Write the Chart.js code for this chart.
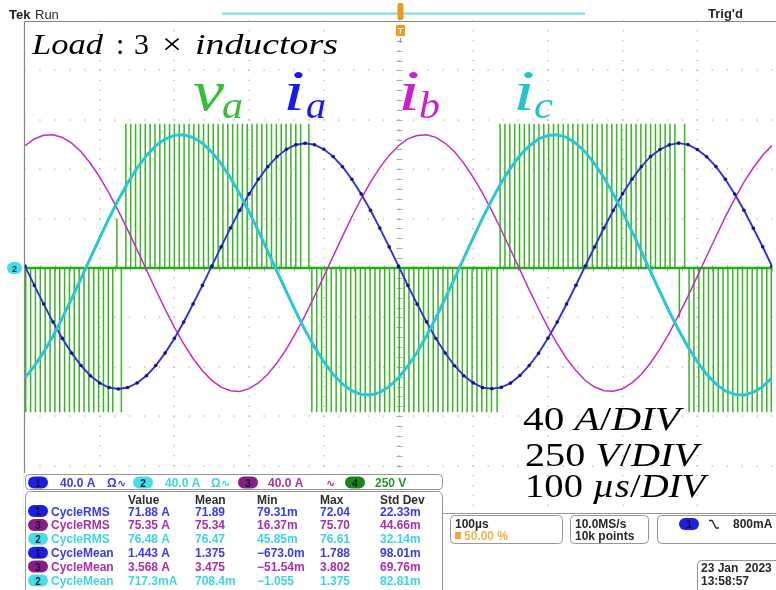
<!DOCTYPE html>
<html>
<head>
<meta charset="utf-8">
<script src="https://cdn.jsdelivr.net/npm/chart.js@4/dist/chart.umd.min.js"></script>
<style>
  html, body { margin: 0; padding: 0; background: #fff; }
  canvas { display: block; }
</style>
</head>
<body>
<canvas id="scope" width="776" height="590"></canvas>
<script>
// Sample instants of the current traces (µs); 100 µs/div over 10 divisions
const sampleTimesUs = [0, 12.5, 25, 37.5, 50, 62.5, 75, 87.5, 100, 112.5, 125, 137.5, 150, 162.5, 175, 187.5,
  200, 212.5, 225, 237.5, 250, 262.5, 275, 287.5, 300, 312.5, 325, 337.5, 350, 362.5, 375, 387.5,
  400, 412.5, 425, 437.5, 450, 462.5, 475, 487.5, 500, 512.5, 525, 537.5, 550, 562.5, 575, 587.5,
  600, 612.5, 625, 637.5, 650, 662.5, 675, 687.5, 700, 712.5, 725, 737.5, 750, 762.5, 775, 787.5,
  800, 812.5, 825, 837.5, 850, 862.5, 875, 887.5, 900, 912.5, 925, 937.5, 950, 962.5, 975, 987.5, 1000];

// Phase currents (A), 40 A/div
const iaA = [1.5, -14.1, -29.2, -43.7, -57.0, -68.9, -79.0, -87.2, -93.1, -96.8, -98.0, -96.8, -93.1, -87.2, -79.0, -68.9,
  -57.0, -43.7, -29.2, -14.1, 1.5, 17.1, 32.3, 46.7, 60.0, 71.9, 82.0, 90.2, 96.1, 99.8, 101.0, 99.8,
  96.1, 90.2, 82.0, 71.9, 60.0, 46.7, 32.3, 17.1, 1.5, -14.2, -29.3, -43.6, -57.1, -68.8, -79.1, -87.2,
  -93.0, -96.9, -97.8, -96.7, -93.2, -87.1, -79.0, -69.0, -56.9, -43.7, -29.1, -14.0, 1.6, 17.0, 32.4, 46.6,
  60.1, 71.8, 82.0, 90.3, 96.0, 99.7, 101.1, 99.9, 96.0, 90.1, 82.1, 71.9, 59.9, 46.8, 32.2, 17.2, 1.4];

const ibA = [99.0, 104.5, 107.4, 107.9, 105.7, 101.1, 94.1, 84.8, 73.6, 60.6, 46.3, 30.9, 14.9, -1.4, -17.6, -33.3,
  -48.0, -61.5, -73.3, -83.2, -91.0, -96.5, -99.4, -99.9, -97.7, -93.1, -86.1, -76.8, -65.6, -52.6, -38.3, -22.9,
  -6.9, 9.4, 25.6, 41.3, 56.0, 69.5, 81.3, 91.2, 99.0, 104.6, 107.3, 107.8, 105.8, 101.0, 94.2, 84.7,
  73.5, 60.7, 46.2, 31.0, 14.8, -1.3, -17.7, -33.2, -48.1, -61.4, -73.3, -83.1, -91.1, -96.4, -99.3, -99.8,
  -97.8, -93.0, -86.2, -76.7, -65.5, -52.7, -38.2, -23.0, -6.8, 9.5, 25.5, 41.4, 55.9, 69.6, 81.2, 91.3, 99.1];

const icA = [-88.9, -79.5, -68.1, -55.0, -40.4, -24.8, -8.5, 8.0, 24.4, 40.3, 55.3, 68.9, 80.9, 91.0, 98.9, 104.4,
  107.4, 107.9, 105.7, 101.0, 93.9, 84.5, 73.1, 60.0, 45.4, 29.8, 13.5, -3.0, -19.4, -35.3, -50.3, -63.9,
  -75.9, -86.0, -93.9, -99.4, -102.4, -102.9, -100.7, -96.0, -88.9, -79.4, -68.2, -54.9, -40.5, -24.7, -8.6, 8.1,
  24.3, 40.4, 55.2, 69.0, 80.8, 91.1, 98.8, 104.5, 107.3, 107.8, 105.8, 100.9, 94.0, 84.4, 73.2, 59.9,
  45.5, 29.7, 13.6, -3.1, -19.3, -35.4, -50.2, -64.0, -75.8, -86.1, -93.8, -99.5, -102.3, -103.0, -100.6, -96.1, -88.8];

// Phase voltage v_a: switching edges (µs) per half cycle, 250 V/div
const vaLinkV = 730;
const vaNeg1Us = [1, 7.5, 14, 20.5, 27, 33.5, 40, 46.5, 53, 59.5, 66, 72.5, 79, 85.5, 92, 98.5, 105, 111.5, 117.5, 129];
const vaPos1Us = [135, 141.5, 148, 154.5, 161, 167.5, 174, 180.5, 187, 193.5, 200, 206.5, 213, 219.5, 226, 232.5, 239,
  245.5, 252, 258.5, 265, 271.5, 278, 284.5, 291, 297.5, 304, 310.5, 317, 323.5, 330, 336.5, 343, 349.5, 356, 362.5, 369, 380];
const vaNeg2Us = [384, 390.5, 397, 403.5, 410, 416.5, 423, 429.5, 436, 442.5, 449, 455.5, 462, 468.5, 475, 481.5, 488,
  494.5, 501, 507.5, 514, 520.5, 527, 533.5, 540, 546.5, 553, 559.5, 566, 572.5, 579, 585.5, 592, 598.5, 605, 611.5, 618, 624.5, 632];
const vaPos2Us = [636, 642.5, 649, 655.5, 662, 668.5, 675, 681.5, 688, 694.5, 701, 707.5, 714, 720.5, 727, 733.5, 740,
  746.5, 753, 759.5, 766, 772.5, 779, 785.5, 792, 798.5, 805, 811.5, 818, 824.5, 831, 837.5, 844, 850.5, 857, 863.5, 870, 883];
const vaNeg3Us = [889, 895.5, 902, 908.5, 915, 921.5, 928, 934.5, 941, 947.5, 954, 960.5, 967, 973.5, 980, 986.5, 993, 999];
const vaEdgeUs = [123, 876];
const vaEdgeV = [250, -250];

// Readout texts
const channelScales = ['40.0 A', '40.0 A', '40.0 A', '250 V'];
const measureHeader = ['Value', 'Mean', 'Min', 'Max', 'Std Dev'];
const measureChannels = [1, 3, 2, 1, 3, 2];
const measureNames = ['CycleRMS', 'CycleRMS', 'CycleRMS', 'CycleMean', 'CycleMean', 'CycleMean'];
const measureValues = [
  ['71.88 A', '71.89', '79.31m', '72.04', '22.33m'],
  ['75.35 A', '75.34', '16.37m', '75.70', '44.66m'],
  ['76.48 A', '76.47', '45.85m', '76.61', '32.14m'],
  ['1.443 A', '1.375', '\u2212673.0m', '1.788', '98.01m'],
  ['3.568 A', '3.475', '\u221251.54m', '3.802', '69.76m'],
  ['717.3mA', '708.4m', '\u22121.055', '1.375', '82.81m']
];

const CH = {
  1: { text: 'rgb(58,58,232)', badge: 'rgb(30,30,225)' },
  2: { text: 'rgb(62,212,224)', badge: 'rgb(70,222,232)' },
  3: { text: 'rgb(168,48,168)', badge: 'rgb(135,30,135)' },
  4: { text: 'rgb(40,150,40)', badge: 'rgb(25,135,25)' }
};

const toXY = (ts, vs) => ts.map((t, i) => ({ x: t, y: vs[i] }));

// Build the switching trace: every edge goes from 0 V to the rail and back
const vaEdges = [];
vaNeg1Us.forEach(t => vaEdges.push({ t, v: -vaLinkV }));
vaPos1Us.forEach(t => vaEdges.push({ t, v: vaLinkV }));
vaNeg2Us.forEach(t => vaEdges.push({ t, v: -vaLinkV }));
vaPos2Us.forEach(t => vaEdges.push({ t, v: vaLinkV }));
vaNeg3Us.forEach(t => vaEdges.push({ t, v: -vaLinkV }));
vaEdgeUs.forEach((t, i) => vaEdges.push({ t, v: vaEdgeV[i] }));
vaEdges.sort((a, b) => a.t - b.t);
const vaTrace = [];
vaEdges.forEach(e => { vaTrace.push({ x: e.t, y: 0 }, { x: e.t, y: e.v }, { x: e.t, y: 0 }); });
const vaLevel = [{ x: 0, y: 0 }, { x: 1000, y: 0 }];

function rr(ctx, x, y, w, h, r) {
  ctx.beginPath();
  if (ctx.roundRect) ctx.roundRect(x, y, w, h, r); else ctx.rect(x, y, w, h);
}
function txt(ctx, s, x, y, font, color, align) {
  ctx.font = font; ctx.fillStyle = color; ctx.textAlign = align || 'left'; ctx.textBaseline = 'alphabetic';
  ctx.fillText(s, x, y);
}
function fitText(ctx, s, x, y, font, color, w) {
  ctx.font = font;
  const m = ctx.measureText(s).width;
  ctx.save(); ctx.translate(x, y); if (w) ctx.scale(w / m, 1);
  ctx.fillStyle = color; ctx.textAlign = 'left'; ctx.textBaseline = 'alphabetic';
  ctx.fillText(s, 0, 0); ctx.restore();
}
function badge(ctx, cx, cy, n) {
  rr(ctx, cx - 10, cy - 6, 20, 12, 6);
  ctx.fillStyle = CH[n].badge; ctx.fill();
  txt(ctx, String(n), cx, cy + 4, 'bold 10px "Liberation Sans"', 'rgb(20,20,40)', 'center');
}
function mathLine(ctx, runs, x, y, size, color, targetW) {
  const fonts = { r: size + 'px "Liberation Serif"', i: 'italic ' + size + 'px "Liberation Serif"' };
  let total = 0;
  runs.forEach(r => { ctx.font = fonts[r[1]]; total += ctx.measureText(r[0]).width; });
  const k = targetW / total;
  ctx.save(); ctx.translate(x, y); ctx.scale(k, 1);
  let cx = 0;
  runs.forEach(r => { ctx.font = fonts[r[1]]; ctx.fillStyle = color; ctx.textAlign = 'left'; ctx.fillText(r[0], cx, 0); cx += ctx.measureText(r[0]).width; });
  ctx.restore();
}

const scopeFrame = {
  id: 'scopeFrame',
  beforeDraw(chart) {
    const ctx = chart.ctx;
    ctx.save(); ctx.fillStyle = '#fff'; ctx.fillRect(0, 0, chart.width, chart.height); ctx.restore();
  },
  beforeDatasetsDraw(chart) {
    const { ctx, chartArea: a, scales: { x, y } } = chart;
    ctx.save();
    ctx.fillStyle = 'rgb(182,182,182)';
    // dotted division lines
    for (let d = 1; d < 10; d++) {
      const px = Math.round(x.getPixelForValue(d * 100));
      for (let m = 0; m <= 50; m++) {
        const py = y.getPixelForValue(200 - m * 8);
        ctx.fillRect(px - 0.6, py - 0.6, 1.3, 1.3);
      }
    }
    for (let d = 1; d < 10; d++) {
      const py = Math.round(y.getPixelForValue(200 - d * 40));
      for (let m = 0; m <= 50; m++) {
        const px = x.getPixelForValue(m * 20);
        ctx.fillRect(px - 0.6, py - 0.6, 1.3, 1.3);
      }
    }
    // centre cross with minor ticks
    ctx.strokeStyle = 'rgb(170,170,170)'; ctx.lineWidth = 1;
    const cx = Math.round(x.getPixelForValue(500)) + 0.5;
    const cy = Math.round(y.getPixelForValue(0)) + 0.5;
    ctx.beginPath();
    for (let m = 0; m <= 50; m++) {
      const py = Math.round(y.getPixelForValue(200 - m * 8)) + 0.5;
      ctx.moveTo(cx - 3, py); ctx.lineTo(cx + 3, py);
      const px = Math.round(x.getPixelForValue(m * 20)) + 0.5;
      ctx.moveTo(px, cy - 3); ctx.lineTo(px, cy + 3);
    }
    ctx.stroke();
    // frame
    ctx.strokeStyle = 'rgb(135,135,135)'; ctx.lineWidth = 1.2;
    ctx.beginPath();
    ctx.moveTo(a.left - 0.5, a.top + 0.5); ctx.lineTo(chart.width, a.top + 0.5);
    ctx.moveTo(a.left - 0.5, a.top); ctx.lineTo(a.left - 0.5, a.bottom);
    ctx.stroke();
    ctx.restore();
  },
  afterDatasetsDraw(chart) {
    const { ctx, scales: { y } } = chart;
    ctx.save();
    const UI = 'bold 12px "Liberation Sans"';

    // top status bar
    txt(ctx, 'Tek', 9, 19, 'bold 13px "Liberation Sans"', 'rgb(30,30,30)');
    txt(ctx, 'Run', 35, 19, '13px "Liberation Sans"', 'rgb(40,40,40)');
    ctx.fillStyle = 'rgb(120,226,226)'; ctx.fillRect(222, 12.5, 363, 2.2);
    txt(ctx, "Trig'd", 708, 18, 'bold 13px "Liberation Sans"', 'rgb(40,40,40)');
    // trigger position markers
    ctx.fillStyle = 'rgb(240,150,30)';
    rr(ctx, 397.5, 3, 6, 17, 2); ctx.fill();
    rr(ctx, 396, 25, 9, 11, 1.5); ctx.fill();
    txt(ctx, 'T', 400.5, 34, 'bold 9px "Liberation Sans"', '#fff', 'center');
    ctx.strokeStyle = 'rgb(150,150,150)'; ctx.lineWidth = 1;
    ctx.beginPath(); ctx.moveTo(400.5, 38); ctx.lineTo(400.5, 43); ctx.stroke();

    // channel ground marker
    const gy = y.getPixelForValue(0);
    ctx.fillStyle = 'rgb(70,222,232)';
    rr(ctx, 7, gy - 6, 15, 12, 6); ctx.fill();
    txt(ctx, '2', 14.5, gy + 4, 'bold 9px "Liberation Sans"', 'rgb(20,60,80)', 'center');

    // readout panel covering the lower graticule
    ctx.fillStyle = '#fff';
    ctx.fillRect(24, 473, 420, 117);
    ctx.fillRect(443, 514.5, 333, 76);
    ctx.strokeStyle = 'rgb(150,150,150)'; ctx.lineWidth = 1;
    ctx.beginPath(); ctx.moveTo(443, 513.5); ctx.lineTo(776, 513.5); ctx.stroke();
    rr(ctx, 25.5, 474.5, 417, 15, 4); ctx.stroke();
    rr(ctx, 25.5, 491.5, 417, 104, 5); ctx.stroke();

    // channel scale row
    const chRowY = 482.5;
    const chX = [[38, 60], [143, 165], [248, 268], [355, 375]];
    [1, 2, 3, 4].forEach((n, i) => {
      badge(ctx, chX[i][0], chRowY, n);
      txt(ctx, channelScales[i], chX[i][1], chRowY + 4.5, UI, CH[n].text);
    });
    txt(ctx, '\u03A9', 107, chRowY + 4.5, UI, CH[1].text);
    txt(ctx, '\u223F', 117, chRowY + 4.5, 'bold 11px "DejaVu Sans"', CH[1].text);
    txt(ctx, '\u03A9', 211, chRowY + 4.5, UI, CH[2].text);
    txt(ctx, '\u223F', 221, chRowY + 4.5, 'bold 11px "DejaVu Sans"', CH[2].text);
    txt(ctx, '\u223F', 326, chRowY + 4.5, 'bold 11px "DejaVu Sans"', CH[3].text);

    // measurement table
    const colX = [128, 195, 257, 320, 380];
    measureHeader.forEach((h, i) => txt(ctx, h, colX[i], 503.5, UI, 'rgb(45,45,45)'));
    measureNames.forEach((name, r) => {
      const by = 515.5 + r * 13.9;
      const n = measureChannels[r];
      badge(ctx, 38, by - 4.5, n);
      txt(ctx, name, 51, by, UI, CH[n].text);
      measureValues[r].forEach((v, i) => txt(ctx, v, colX[i], by, UI, CH[n].text));
    });

    // horizontal / acquisition / trigger boxes
    ctx.strokeStyle = 'rgb(150,150,150)';
    rr(ctx, 450.5, 515.5, 112, 28, 4); ctx.stroke();
    rr(ctx, 570.5, 515.5, 78, 28, 4); ctx.stroke();
    rr(ctx, 657.5, 515.5, 130, 28, 4); ctx.stroke();
    rr(ctx, 697.5, 560.5, 90, 36, 4); ctx.stroke();
    txt(ctx, '100\u00B5s', 455, 527.5, UI, 'rgb(40,40,40)');
    ctx.fillStyle = 'rgb(240,165,60)'; ctx.fillRect(455, 532, 6, 7);
    txt(ctx, '50.00 %', 464, 540, UI, 'rgb(242,178,80)');
    txt(ctx, '10.0MS/s', 575, 527.5, UI, 'rgb(40,40,40)');
    txt(ctx, '10k points', 575, 540, UI, 'rgb(40,40,40)');
    badge(ctx, 689, 524, 1);
    ctx.strokeStyle = 'rgb(40,40,40)'; ctx.lineWidth = 1.3;
    ctx.beginPath(); ctx.moveTo(709, 520.5); ctx.lineTo(712, 520.5); ctx.lineTo(716, 528); ctx.lineTo(719, 528); ctx.stroke();
    txt(ctx, '800mA', 733, 528, UI, 'rgb(40,40,40)');
    txt(ctx, '23 Jan  2023', 701, 572, UI, 'rgb(40,40,40)');
    txt(ctx, '13:58:57', 701, 585, UI, 'rgb(40,40,40)');

    // annotations
    const IT = 'italic 30px "Liberation Serif"', RM = '30px "Liberation Serif"';
    fitText(ctx, 'Load', 32, 54, IT, '#000', 71);
    fitText(ctx, ':', 116, 54, RM, '#000');
    fitText(ctx, '3', 134, 54, RM, '#000', 15);
    fitText(ctx, '\u00D7', 162, 54, RM, '#000', 20);
    fitText(ctx, 'inductors', 195, 54, IT, '#000', 143);

    const BIG = 'italic 58px "Liberation Serif"', SUB = 'italic 38px "Liberation Serif"';
    fitText(ctx, 'v', 193, 110, BIG, 'rgb(55,190,55)', 31);
    fitText(ctx, 'a', 222, 118, SUB, 'rgb(55,190,55)', 21);
    fitText(ctx, 'i', 283, 110, BIG, 'rgb(25,25,235)', 22);
    fitText(ctx, 'a', 306, 118, SUB, 'rgb(25,25,235)', 20);
    fitText(ctx, 'i', 398, 110, BIG, 'rgb(205,30,205)', 22);
    fitText(ctx, 'b', 419, 118, SUB, 'rgb(205,30,205)', 21);
    fitText(ctx, 'i', 513, 110, BIG, 'rgb(35,195,205)', 22);
    fitText(ctx, 'c', 534, 118, SUB, 'rgb(35,195,205)', 19);

    mathLine(ctx, [['40 ', 'r'], ['A', 'i'], ['/', 'r'], ['DIV', 'i']], 523, 430, 34, '#000', 157);
    mathLine(ctx, [['250 ', 'r'], ['V', 'i'], ['/', 'r'], ['DIV', 'i']], 525, 466, 34, '#000', 173);
    mathLine(ctx, [['100 ', 'r'], ['\u00B5s', 'i'], ['/', 'r'], ['DIV', 'i']], 525, 497, 34, '#000', 180);
    ctx.restore();
  }
};

new Chart(document.getElementById('scope'), {
  type: 'line',
  data: {
    datasets: [
      { label: 'ic', data: toXY(sampleTimesUs, icA), yAxisID: 'y', borderColor: 'rgb(42,198,210)', borderWidth: 3, pointRadius: 0, order: 1 },
      { label: 'ia', data: toXY(sampleTimesUs, iaA), yAxisID: 'y', borderColor: 'rgb(50,50,210)', borderWidth: 1.9,
        pointRadius: 1.8, pointBackgroundColor: 'rgb(20,20,130)', pointBorderWidth: 0, order: 2 },
      { label: 'ib', data: toXY(sampleTimesUs, ibA), yAxisID: 'y', borderColor: 'rgb(195,45,195)', borderWidth: 1.5, pointRadius: 0, order: 3 },
      { label: 'va level', data: vaLevel, yAxisID: 'yV', borderColor: 'rgb(45,168,30)', borderWidth: 2.6, pointRadius: 0, order: 4 },
      { label: 'va', data: vaTrace, yAxisID: 'yV', borderColor: 'rgb(58,180,38)', borderWidth: 1.5, pointRadius: 0, order: 5 }
    ]
  },
  options: {
    responsive: false,
    animation: false,
    events: [],
    layout: { padding: { left: 25, right: 1, top: 21, bottom: 75 } },
    elements: { line: { tension: 0 } },
    scales: {
      x: { type: 'linear', min: 0, max: 1000, display: false },
      y: { type: 'linear', min: -200, max: 200, display: false },
      yV: { type: 'linear', min: -1250, max: 1250, display: false, position: 'right' }
    },
    plugins: { legend: { display: false }, tooltip: { enabled: false } }
  },
  plugins: [scopeFrame]
});
</script>
</body>
</html>
